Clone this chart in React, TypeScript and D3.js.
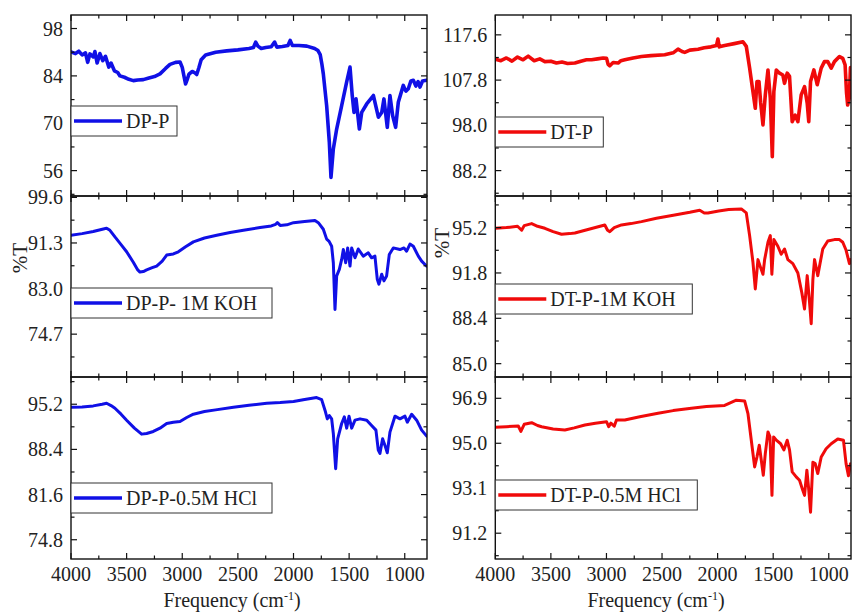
import React from "react";
import * as d3 from "d3";

type Pt = [number, number];

// Wavenumber axis (cm-1), shared by every panel
const wavenumberDomain: [number, number] = [4000, 800];
const wavenumberTicks = [4000, 3500, 3000, 2500, 2000, 1500, 1000];
const wavenumberMinorTicks = [3750, 3250, 2750, 2250, 1750, 1250];

// FTIR spectra: [wavenumber, %T]
const dpP: Pt[] = [
  [4000, 91.1], [3960, 90.6], [3930, 91.3], [3900, 90.2], [3870, 90.8], [3850, 88.0], [3830, 90.5],
  [3800, 89.6], [3785, 91.2], [3765, 87.8], [3740, 90.6], [3715, 88.5], [3690, 89.8], [3660, 86.6],
  [3640, 87.8], [3610, 85.5], [3580, 85.0], [3560, 84.0], [3520, 83.6], [3480, 83.0], [3440, 82.6],
  [3400, 82.8], [3350, 82.9], [3300, 83.4], [3250, 83.8], [3200, 84.6], [3150, 86.2], [3110, 87.4],
  [3060, 88.0], [3020, 88.1], [3000, 86.5], [2985, 84.0], [2970, 81.6], [2955, 83.0], [2940, 84.5],
  [2910, 85.3], [2890, 85.0], [2870, 84.4], [2850, 86.5], [2830, 88.8], [2790, 90.2], [2700, 91.0],
  [2600, 91.4], [2500, 91.7], [2400, 92.1], [2360, 92.4], [2340, 94.0], [2320, 92.8], [2290, 92.1],
  [2250, 92.4], [2200, 92.6], [2170, 94.0], [2150, 92.5], [2100, 92.7], [2050, 93.0], [2030, 94.5],
  [2010, 93.0], [1950, 93.0], [1880, 92.8], [1810, 92.1], [1780, 91.5], [1760, 90.3], [1745, 87.5],
  [1732, 84.6], [1702, 75.2], [1678, 64.4], [1663, 54.0], [1642, 62.4], [1612, 68.3], [1567, 75.2],
  [1522, 82.2], [1492, 86.6], [1472, 78.2], [1456, 73.2], [1438, 77.2], [1408, 68.3], [1387, 73.2],
  [1342, 75.7], [1282, 78.2], [1237, 71.8], [1207, 73.2], [1187, 77.2], [1157, 68.8], [1133, 78.2],
  [1109, 72.3], [1082, 68.8], [1058, 76.2], [1013, 81.2], [990, 79.5], [968, 80.2], [945, 82.5],
  [923, 82.7], [900, 81.0], [880, 82.3], [863, 80.7], [840, 82.5], [803, 82.7],
];

const dpPKoh: Pt[] = [
  [4000, 92.7], [3900, 93.0], [3800, 93.4], [3700, 93.9], [3680, 94.0], [3650, 93.6], [3605, 92.4],
  [3550, 91.0], [3500, 89.7], [3440, 87.8], [3400, 86.4], [3380, 86.0], [3350, 86.1], [3320, 86.4],
  [3270, 86.8], [3230, 87.1], [3180, 88.0], [3140, 89.1], [3080, 89.3], [3035, 89.7], [2970, 90.6],
  [2900, 91.5], [2800, 92.2], [2690, 92.7], [2570, 93.2], [2450, 93.6], [2300, 94.1], [2200, 94.4],
  [2160, 94.7], [2145, 95.0], [2120, 94.5], [2060, 94.6], [2000, 95.0], [1900, 95.2], [1807, 95.4],
  [1777, 95.0], [1732, 93.8], [1702, 92.0], [1680, 91.6], [1657, 90.7], [1642, 87.7], [1627, 79.2],
  [1612, 85.3], [1588, 86.5], [1567, 88.3], [1552, 90.1], [1531, 87.7], [1513, 90.4], [1492, 87.1],
  [1477, 90.4], [1447, 88.6], [1418, 90.2], [1373, 88.9], [1328, 89.5], [1298, 88.6], [1268, 88.9],
  [1247, 84.7], [1232, 83.8], [1207, 85.6], [1187, 84.4], [1163, 85.3], [1139, 89.2], [1103, 90.4],
  [1043, 90.1], [1007, 90.4], [983, 89.8], [953, 91.1], [923, 90.7], [878, 88.9], [848, 88.0],
  [805, 87.1],
];

const dpPHcl: Pt[] = [
  [4000, 94.75], [3900, 94.8], [3800, 94.95], [3720, 95.2], [3680, 95.35], [3640, 95.0], [3605, 94.6],
  [3550, 93.7], [3500, 92.8], [3430, 91.6], [3365, 90.7], [3320, 90.8], [3260, 91.1], [3200, 91.6],
  [3140, 92.3], [3080, 92.5], [3020, 92.6], [2960, 93.2], [2900, 93.7], [2800, 94.1], [2700, 94.35],
  [2540, 94.75], [2400, 95.05], [2240, 95.35], [2120, 95.45], [2000, 95.6], [1900, 95.9], [1792, 96.2],
  [1747, 95.9], [1717, 94.3], [1696, 93.0], [1678, 93.5], [1657, 93.0], [1642, 90.8], [1621, 85.5],
  [1603, 90.0], [1567, 92.3], [1543, 93.3], [1522, 91.6], [1501, 93.4], [1477, 91.6], [1447, 92.8],
  [1402, 93.0], [1342, 92.8], [1298, 92.0], [1259, 91.3], [1238, 88.3], [1223, 87.8], [1199, 90.0],
  [1178, 89.0], [1157, 87.9], [1133, 91.0], [1088, 93.4], [1043, 93.0], [998, 93.4], [977, 92.5],
  [938, 93.7], [893, 92.8], [848, 91.3], [803, 90.4],
];

const dtP: Pt[] = [
  [4000, 112.3], [3950, 112.0], [3900, 112.6], [3850, 111.9], [3800, 112.8], [3750, 112.2], [3704, 113.0],
  [3650, 112.0], [3600, 112.4], [3554, 111.8], [3500, 111.9], [3450, 111.5], [3400, 111.7], [3350, 111.4],
  [3284, 111.5], [3230, 111.9], [3180, 112.2], [3134, 112.2], [3080, 112.4], [3030, 112.6], [2999, 112.5],
  [2985, 111.2], [2970, 110.9], [2940, 111.6], [2895, 111.5], [2870, 112.0], [2835, 112.2], [2760, 112.6],
  [2685, 112.9], [2600, 113.1], [2476, 113.3], [2400, 113.7], [2356, 114.5], [2320, 114.0], [2296, 113.8],
  [2250, 114.3], [2176, 114.5], [2120, 114.8], [2060, 115.0], [2010, 115.3], [1997, 116.7], [1985, 115.0],
  [1937, 115.3], [1850, 115.7], [1772, 116.1], [1742, 115.1], [1712, 110.4], [1682, 105.3], [1661, 101.7],
  [1646, 107.5], [1628, 107.5], [1613, 103.0], [1592, 98.1], [1571, 104.6], [1547, 110.0], [1526, 103.9],
  [1508, 91.2], [1494, 105.3], [1472, 110.0], [1443, 109.3], [1413, 108.9], [1398, 107.1], [1374, 109.3],
  [1353, 108.6], [1329, 98.8], [1302, 100.2], [1278, 98.8], [1248, 104.6], [1218, 106.4], [1194, 102.8],
  [1180, 98.8], [1164, 107.5], [1134, 110.0], [1104, 106.8], [1068, 110.4], [1039, 111.8], [1009, 111.8],
  [978, 110.4], [949, 111.8], [904, 112.9], [874, 112.5], [853, 111.1], [840, 105.0], [830, 102.4],
  [815, 104.0], [805, 110.5],
];

const dtPKoh: Pt[] = [
  [4000, 95.15], [3900, 95.2], [3800, 95.3], [3763, 95.0], [3740, 95.35], [3673, 95.5], [3620, 95.3],
  [3554, 95.15], [3480, 94.9], [3404, 94.7], [3330, 94.75], [3284, 94.8], [3150, 95.1], [3015, 95.4],
  [2990, 95.0], [2970, 94.9], [2930, 95.2], [2865, 95.4], [2780, 95.5], [2685, 95.65], [2550, 95.9],
  [2386, 96.15], [2250, 96.35], [2161, 96.5], [2120, 96.3], [2087, 96.3], [1990, 96.45], [1900, 96.55],
  [1787, 96.6], [1742, 96.3], [1712, 94.6], [1682, 92.6], [1661, 90.6], [1637, 92.8], [1613, 92.2],
  [1592, 91.7], [1577, 92.8], [1547, 94.1], [1526, 94.6], [1512, 91.7], [1494, 94.3], [1458, 93.8],
  [1428, 93.2], [1398, 93.6], [1368, 92.8], [1323, 92.5], [1278, 91.8], [1242, 90.3], [1218, 89.1],
  [1194, 91.6], [1173, 89.6], [1158, 88.0], [1143, 91.3], [1128, 92.8], [1099, 91.6], [1054, 93.6],
  [1009, 94.2], [949, 94.3], [904, 94.3], [874, 94.1], [844, 93.5], [814, 92.5], [805, 92.8],
];

const dtPHcl: Pt[] = [
  [4000, 95.68], [3900, 95.7], [3793, 95.73], [3770, 95.5], [3740, 95.8], [3673, 95.87], [3620, 95.75],
  [3583, 95.7], [3480, 95.6], [3374, 95.56], [3290, 95.65], [3194, 95.77], [3100, 95.85], [2999, 95.91],
  [2980, 95.7], [2960, 95.85], [2930, 95.72], [2910, 95.98], [2835, 95.98], [2700, 96.12], [2536, 96.27],
  [2400, 96.38], [2236, 96.48], [2100, 96.55], [1937, 96.6], [1832, 96.82], [1757, 96.79], [1727, 96.25],
  [1697, 95.13], [1667, 94.0], [1646, 94.42], [1625, 94.92], [1607, 94.28], [1589, 93.65], [1571, 94.56],
  [1547, 95.48], [1529, 95.27], [1511, 92.8], [1496, 95.27], [1472, 95.13], [1433, 94.98], [1404, 94.72],
  [1374, 95.13], [1353, 94.72], [1329, 93.79], [1293, 93.58], [1263, 93.44], [1233, 93.0], [1218, 92.8],
  [1197, 93.86], [1182, 93.14], [1164, 92.09], [1143, 94.2], [1122, 94.14], [1099, 93.72], [1068, 94.42],
  [1024, 94.77], [978, 94.98], [919, 95.18], [868, 95.13], [844, 94.13], [823, 93.63], [805, 94.13],
];

// Series names
const seriesNames = [
  "DP-P", "DP-P- 1M KOH", "DP-P-0.5M HCl",
  "DT-P", "DT-P-1M KOH", "DT-P-0.5M HCl",
];

// %T tick values for each panel
const ticksDpP = [56, 70, 84, 98];
const ticksDpPKoh = [74.7, 83.0, 91.3, 99.6];
const ticksDpPHcl = [74.8, 81.6, 88.4, 95.2];
const ticksDtP = [88.2, 98.0, 107.8, 117.6];
const ticksDtPKoh = [85.0, 88.4, 91.8, 95.2];
const ticksDtPHcl = [91.2, 93.1, 95.0, 96.9];

// %T ranges for each panel
const rangeDpP: [number, number] = [48.5, 102.0];
const rangeDpPKoh: [number, number] = [66.9, 99.85];
const rangeDpPHcl: [number, number] = [71.9, 99.3];
const rangeDtP: [number, number] = [82.7, 121.9];
const rangeDtPKoh: [number, number] = [84.0, 97.57];
const rangeDtPHcl: [number, number] = [90.11, 97.8];

const BLUE = "#1010E6";
const RED = "#F00A0A";
const FONT = "'Liberation Serif', 'Times New Roman', Times, serif";

interface PanelSpec {
  id: string;
  data: Pt[];
  name: string;
  ticks: number[];
  decimals: number;
  range: [number, number];
  color: string;
  col: number;
  row: number;
  strokeW: number;
  legendW: number;
  legendY: number;
}

const panels: PanelSpec[] = [
  { id: "a", data: dpP, name: seriesNames[0], ticks: ticksDpP, decimals: 0, range: rangeDpP, color: BLUE, col: 0, row: 0, strokeW: 3.6, legendW: 106, legendY: 106 },
  { id: "b", data: dpPKoh, name: seriesNames[1], ticks: ticksDpPKoh, decimals: 1, range: rangeDpPKoh, color: BLUE, col: 0, row: 1, strokeW: 3, legendW: 201, legendY: 288 },
  { id: "c", data: dpPHcl, name: seriesNames[2], ticks: ticksDpPHcl, decimals: 1, range: rangeDpPHcl, color: BLUE, col: 0, row: 2, strokeW: 3, legendW: 201, legendY: 483 },
  { id: "d", data: dtP, name: seriesNames[3], ticks: ticksDtP, decimals: 1, range: rangeDtP, color: RED, col: 1, row: 0, strokeW: 3.6, legendW: 108, legendY: 117 },
  { id: "e", data: dtPKoh, name: seriesNames[4], ticks: ticksDtPKoh, decimals: 1, range: rangeDtPKoh, color: RED, col: 1, row: 1, strokeW: 3, legendW: 197, legendY: 284 },
  { id: "f", data: dtPHcl, name: seriesNames[5], ticks: ticksDtPHcl, decimals: 1, range: rangeDtPHcl, color: RED, col: 1, row: 2, strokeW: 3, legendW: 202, legendY: 480 },
];

const columns = [
  { x0: 71, x1: 427, yLabelX: 20, yLabelY: 258, titleX: 232 },
  { x0: 495.3, x1: 851, yLabelX: 442, yLabelY: 243, titleX: 656 },
];
const rows = [
  { y0: 15, y1: 196 },
  { y0: 196, y1: 377 },
  { y0: 377, y1: 559 },
];

function Panel({ p }: { p: PanelSpec }) {
  const c = columns[p.col];
  const r = rows[p.row];
  const x = d3.scaleLinear().domain(wavenumberDomain).range([c.x0, c.x1]);
  const y = d3.scaleLinear().domain(p.range).range([r.y1, r.y0]);
  const line = d3
    .line<Pt>()
    .x((d) => x(d[0]))
    .y((d) => y(d[1]))
    .curve(d3.curveLinear);

  const step = p.ticks[1] - p.ticks[0];
  const minor = [p.ticks[0] - step / 2, ...p.ticks.map((t) => t + step / 2)].filter(
    (v) => v > p.range[0] && v < p.range[1]
  );
  const fmt = d3.format(p.decimals === 0 ? "d" : ".1f");
  const major = 6;
  const small = 3.5;
  const clipId = `clip-${p.id}`;
  const isBottom = p.row === 2;

  return (
    <g>
      <defs>
        <clipPath id={clipId}>
          <rect x={c.x0} y={r.y0} width={c.x1 - c.x0} height={r.y1 - r.y0} />
        </clipPath>
      </defs>
      <path
        d={line(p.data) || ""}
        fill="none"
        stroke={p.color}
        strokeWidth={p.strokeW}
        strokeLinejoin="round"
        strokeLinecap="round"
        clipPath={`url(#${clipId})`}
      />
      {/* frame */}
      <rect x={c.x0} y={r.y0} width={c.x1 - c.x0} height={r.y1 - r.y0} fill="none" stroke="#111" strokeWidth={1.4} />
      {/* x ticks, top and bottom, pointing inward */}
      {wavenumberTicks.map((t) => (
        <g key={`xt${t}`}>
          <line x1={x(t)} x2={x(t)} y1={r.y1} y2={r.y1 - major} stroke="#111" strokeWidth={1.2} />
          <line x1={x(t)} x2={x(t)} y1={r.y0} y2={r.y0 + major} stroke="#111" strokeWidth={1.2} />
        </g>
      ))}
      {wavenumberMinorTicks.map((t) => (
        <g key={`xm${t}`}>
          <line x1={x(t)} x2={x(t)} y1={r.y1} y2={r.y1 - small} stroke="#111" strokeWidth={1.2} />
          <line x1={x(t)} x2={x(t)} y1={r.y0} y2={r.y0 + small} stroke="#111" strokeWidth={1.2} />
        </g>
      ))}
      {/* y ticks, left and right */}
      {p.ticks.map((t) => (
        <g key={`yt${t}`}>
          <line x1={c.x0} x2={c.x0 + major} y1={y(t)} y2={y(t)} stroke="#111" strokeWidth={1.2} />
          <line x1={c.x1} x2={c.x1 - major} y1={y(t)} y2={y(t)} stroke="#111" strokeWidth={1.2} />
          <text
            x={c.x0 - 8}
            y={y(t)}
            dy="0.35em"
            textAnchor="end"
            fontFamily={FONT}
            fontSize={20}
            fill="#222"
          >
            {fmt(t)}
          </text>
        </g>
      ))}
      {minor.map((t) => (
        <g key={`ym${t}`}>
          <line x1={c.x0} x2={c.x0 + small} y1={y(t)} y2={y(t)} stroke="#111" strokeWidth={1.2} />
          <line x1={c.x1} x2={c.x1 - small} y1={y(t)} y2={y(t)} stroke="#111" strokeWidth={1.2} />
        </g>
      ))}
      {isBottom &&
        wavenumberTicks.map((t) => (
          <text
            key={`xl${t}`}
            x={x(t)}
            y={r.y1 + 22}
            textAnchor="middle"
            fontFamily={FONT}
            fontSize={20}
            fill="#222"
          >
            {t}
          </text>
        ))}
      {/* legend */}
      <g>
        <rect x={c.x0} y={p.legendY} width={p.legendW} height={30} fill="#fff" stroke="#333" strokeWidth={1} />
        <line
          x1={c.x0 + 3}
          x2={c.x0 + 51}
          y1={p.legendY + 15}
          y2={p.legendY + 15}
          stroke={p.color}
          strokeWidth={3.5}
        />
        <text
          x={c.x0 + 55}
          y={p.legendY + 22}
          fontFamily={FONT}
          fontSize={20}
          fill="#222"
        >
          {p.name}
        </text>
      </g>
    </g>
  );
}

export default function App() {
  return (
    <svg
      width={855}
      height={615}
      viewBox="0 0 855 615"
      style={{ position: "absolute", left: 0, top: 0, background: "#fff" }}
    >
      <rect x={0} y={0} width={855} height={615} fill="#fff" />
      {panels.map((p) => (
        <Panel key={p.id} p={p} />
      ))}
      {columns.map((c, i) => (
        <g key={`ax${i}`}>
          <text
            transform={`translate(${c.yLabelX},${c.yLabelY}) rotate(-90)`}
            textAnchor="middle"
            dy="0.35em"
            fontFamily={FONT}
            fontSize={21}
            fill="#222"
          >
            %T
          </text>
          <text x={c.titleX} y={607} textAnchor="middle" fontFamily={FONT} fontSize={20} fill="#222">
            Frequency (cm
            <tspan dy={-7} fontSize={12}>
              -1
            </tspan>
            <tspan dy={7}>)</tspan>
          </text>
        </g>
      ))}
    </svg>
  );
}
